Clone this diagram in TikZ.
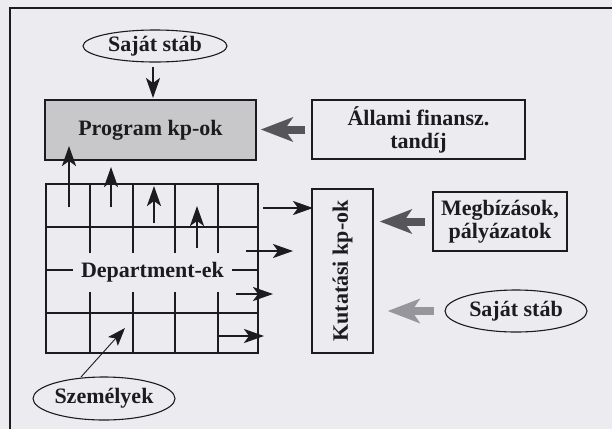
\documentclass[tikz,border=0pt]{standalone}
\usepackage{fontspec}
\setmainfont{Liberation Serif}
\usetikzlibrary{arrows.meta,shapes.geometric}
\definecolor{bg}{RGB}{236,236,240}
\definecolor{ink}{RGB}{28,28,30}
\definecolor{progfill}{RGB}{200,200,203}
\definecolor{darkarrow}{RGB}{85,85,90}
\definecolor{lightarrow}{RGB}{150,150,156}
\begin{document}
\begin{tikzpicture}[x=1pt,y=-1pt,
  font=\fontsize{22}{23}\selectfont\bfseries,
  box/.style={draw=ink, line width=1.3pt, rectangle, inner sep=0pt, align=center, text=ink},
  oval/.style={draw=ink, line width=1.1pt, ellipse, inner sep=0pt, text=ink},
  gridline/.style={draw=ink, line width=1.1pt},
  thinarrow/.style={draw=ink, line width=2.4pt, -{Stealth[length=20pt 0 0,width=14pt 0 0,inset=5pt 0]}},
  hairarrow/.style={draw=ink, line width=0.9pt, -{Stealth[length=18pt 0 0,width=13pt 0 0,inset=4pt 0]}},
  fatarrow/.style={line width=8pt, -{Stealth[length=32pt 0 0,width=24pt 0 0,inset=8pt 0]}}]
\fill[bg] (0,0) rectangle (612,429);
\useasboundingbox (0,0) rectangle (612,429);
% outer frame
\draw[ink, line width=1.3pt] (10,429) -- (10,8) -- (612,8);
% nodes
\node[oval, minimum width=144pt, minimum height=32pt] (stab1) at (155,46) {Saját stáb};
\node[box, fill=progfill, minimum width=211pt, minimum height=60pt] (prog) at (150.5,130) {Program kp-ok};
\node[box, minimum width=213pt, minimum height=59pt] (allami) at (418.5,129.5) {Állami finansz.\\tandíj};
\node[box, minimum width=212pt, minimum height=169pt] (dept) at (152,268.5) {};
\foreach \x in {90,133,175,218} \draw[gridline] (\x,184) -- (\x,353);
\foreach \y in {227,270,313} \draw[gridline] (46,\y) -- (258,\y);
\node[fill=bg, minimum width=159pt, minimum height=39pt, inner sep=0pt, text=ink] (deptlabel) at (152.5,272.5) {Department-ek};
\node[box, minimum width=61pt, minimum height=164pt] (kut) at (342.5,271) {};
\node[rotate=90, text=ink] (kuttext) at (kut.center) {Kutatási kp-ok};
\node[box, minimum width=134pt, minimum height=59pt] (megb) at (500,221.5) {Megbízások,\\pályázatok};
\node[oval, minimum width=142pt, minimum height=42pt] (stab2) at (516,311) {Saját stáb};
\node[oval, minimum width=142pt, minimum height=43pt] (szem) at (104,398.5) {Személyek};
% coordinates for free arrow ends
\coordinate (d0s) at (153,67);  \coordinate (d0e) at (153,98);
\coordinate (u1s) at (69,207);  \coordinate (u1e) at (69,146);
\coordinate (u2s) at (111,207); \coordinate (u2e) at (111,167);
\coordinate (u3s) at (154,223); \coordinate (u3e) at (154,186);
\coordinate (u4s) at (197,248); \coordinate (u4e) at (197,206);
\coordinate (r1s) at (263,208); \coordinate (r1e) at (313,208);
\coordinate (r2s) at (246,251); \coordinate (r2e) at (293,251);
\coordinate (r3s) at (236,294); \coordinate (r3e) at (273,294);
\coordinate (r4s) at (218,336); \coordinate (r4e) at (264,336);
\coordinate (p1s) at (81,377);  \coordinate (p1e) at (125,328);
% thin arrows
\draw[thinarrow] (d0s) -- (d0e);
\draw[thinarrow] (u1s) -- (u1e);
\draw[thinarrow] (u2s) -- (u2e);
\draw[thinarrow] (u3s) -- (u3e);
\draw[thinarrow] (u4s) -- (u4e);
\draw[thinarrow] (r1s) -- (r1e);
\draw[thinarrow] (r2s) -- (r2e);
\draw[thinarrow] (r3s) -- (r3e);
\draw[thinarrow] (r4s) -- (r4e);
\draw[hairarrow] (p1s) -- (p1e);
% fat arrows
\draw[fatarrow, darkarrow, shorten <=6pt, shorten >=4pt] (allami.west) -- (allami.west -| prog.east);
\draw[fatarrow, darkarrow, shorten <=7pt, shorten >=6pt] (megb.west) -- (megb.west -| kut.east);
\draw[fatarrow, lightarrow, shorten <=10pt, shorten >=14pt] (stab2.west) -- (stab2.west -| kut.east);
\end{tikzpicture}
\end{document}
